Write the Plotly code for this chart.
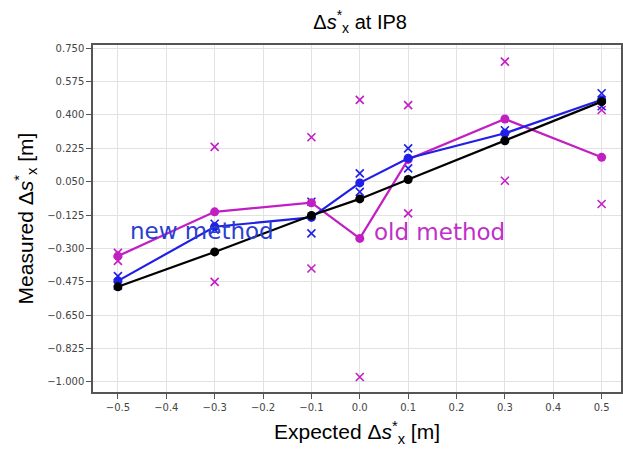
import plotly.graph_objects as go

# ---- data ----
x_pts = [-0.5, -0.3, -0.1, 0.0, 0.1, 0.3, 0.5]
expected_line = [-0.501, -0.318, -0.127, -0.040, 0.062, 0.265, 0.470]
new_mean = [-0.470, -0.186, -0.137, 0.044, 0.173, 0.304, 0.480]
new_hi = [-0.445, -0.170, -0.055, 0.094, 0.225, 0.320, 0.514]
new_lo = [-0.495, -0.202, -0.221, -0.003, 0.120, 0.288, 0.446]
old_mean = [-0.340, -0.108, -0.060, -0.247, 0.167, 0.379, 0.178]
old_hi = [-0.323, 0.233, 0.283, 0.479, 0.452, 0.680, 0.426]
old_lo = [-0.365, -0.475, -0.405, -0.974, -0.116, 0.055, -0.067]

y_ticks = [-1.000, -0.825, -0.650, -0.475, -0.300, -0.125, 0.050, 0.225, 0.400, 0.575, 0.750]
x_ticks = [-0.5, -0.4, -0.3, -0.2, -0.1, 0.0, 0.1, 0.2, 0.3, 0.4, 0.5]

PINK = "#c21fc2"
BLUE = "#1f1fe6"

def fmt(v, d):
    s = f"{abs(v):.{d}f}"
    return ("\u2212" + s) if v < 0 else s

fig = go.Figure()

fig.add_trace(go.Scatter(x=x_pts + x_pts, y=old_hi + old_lo, mode="markers",
                         marker=dict(symbol="x-thin", size=8, line=dict(color=PINK, width=1.6)),
                         showlegend=False))
fig.add_trace(go.Scatter(x=x_pts + x_pts, y=new_hi + new_lo, mode="markers",
                         marker=dict(symbol="x-thin", size=8, line=dict(color=BLUE, width=1.6)),
                         showlegend=False))
fig.add_trace(go.Scatter(x=x_pts, y=old_mean, mode="lines+markers",
                         line=dict(color=PINK, width=2.2),
                         marker=dict(color=PINK, size=9), showlegend=False))
fig.add_trace(go.Scatter(x=x_pts, y=new_mean, mode="lines+markers",
                         line=dict(color=BLUE, width=2.2),
                         marker=dict(color=BLUE, size=9), showlegend=False))
fig.add_trace(go.Scatter(x=x_pts, y=expected_line, mode="lines+markers",
                         line=dict(color="black", width=2.2),
                         marker=dict(color="black", size=9), showlegend=False))

fig.add_annotation(x=-0.48, y=-0.209, xref="x", yref="y", text="new method",
                   showarrow=False, xanchor="left", yanchor="middle",
                   font=dict(family="DejaVu Sans", size=23, color="#2a3fd0"))
fig.add_annotation(x=0.025, y=-0.214, xref="x", yref="y", text="old method",
                   showarrow=False, xanchor="left", yanchor="middle",
                   font=dict(family="DejaVu Sans", size=23, color="#c030c8"))

fig.update_layout(
    width=623, height=454,
    margin=dict(l=93, r=0, t=45, b=62),
    paper_bgcolor="white", plot_bgcolor="white",
    title=dict(text="\u0394<i>s</i><sup>*</sup><sub>x</sub> at IP8", x=0.578, xanchor="center",
               y=0.952, yanchor="middle",
               font=dict(family="Liberation Sans", size=20, color="black")),
    xaxis=dict(range=[-0.5515, 0.540], tickvals=x_ticks,
               ticktext=[fmt(v, 1) for v in x_ticks],
               showgrid=True, gridcolor="#e2e2e2", gridwidth=1,
               showline=True, linecolor="#555555", linewidth=1.5, mirror=True,
               ticks="outside", ticklen=5, tickcolor="#555555",
               tickfont=dict(family="DejaVu Sans", size=10, color="#444444"),
               zeroline=False,
               title=dict(text="Expected \u0394<i>s</i><sup>*</sup><sub>x</sub> [m]",
                          font=dict(family="Liberation Sans", size=21, color="black"),
                          standoff=13)),
    yaxis=dict(range=[-1.0525, 0.767], tickvals=y_ticks,
               ticktext=[fmt(v, 3) for v in y_ticks],
               showgrid=True, gridcolor="#e2e2e2", gridwidth=1,
               showline=True, linecolor="#555555", linewidth=1.5, mirror=True,
               ticks="outside", ticklen=5, tickcolor="#555555",
               tickfont=dict(family="DejaVu Sans", size=10, color="#444444"),
               zeroline=False,
               title=dict(text="Measured \u0394<i>s</i><sup>*</sup><sub>x</sub> [m]",
                          font=dict(family="Liberation Sans", size=21, color="black"),
                          standoff=8)),
)

fig.write_html("out.html")
